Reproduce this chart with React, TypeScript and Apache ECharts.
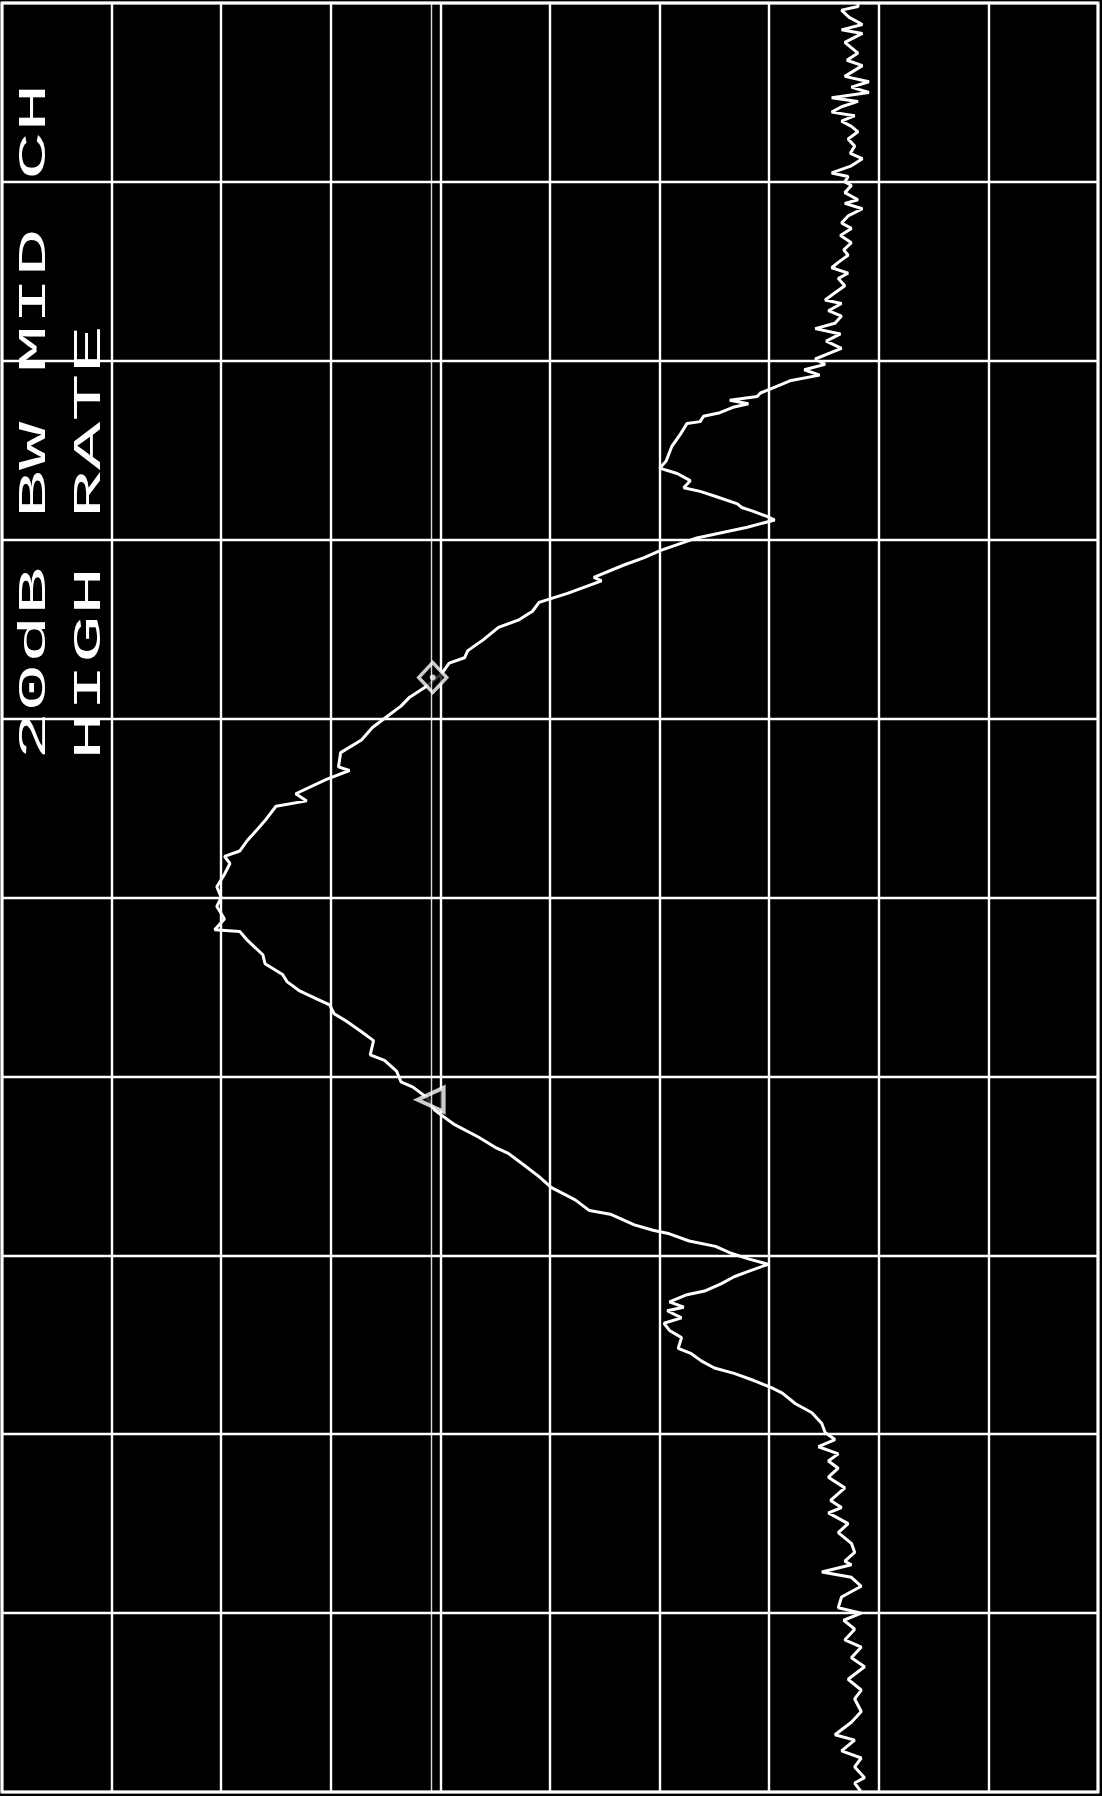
import React, { useEffect, useRef } from "react";
import * as echarts from "echarts";

const TITLE_LINE_1 = "20dB BW MID CH";
const TITLE_LINE_2 = "HIGH RATE";

// Trace points: [dB below reference level, frequency position in divisions from the top]
const noiseUpper: [number, number][] = [
  [78.1, 0.0], [78.1, 0.02], [76.6, 0.04], [77.3, 0.08], [78.5, 0.12], [76.6, 0.15], [78.5, 0.17],
  [76.9, 0.22], [78.1, 0.28], [77.1, 0.32], [78.5, 0.35], [76.9, 0.41], [79.1, 0.44], [77.5, 0.47],
  [79.1, 0.5], [75.7, 0.53], [78.1, 0.55], [76.6, 0.58], [75.7, 0.61], [77.8, 0.63], [76.6, 0.66],
  [77.5, 0.69], [78.1, 0.72], [77.2, 0.76], [77.8, 0.8], [77.4, 0.84], [78.5, 0.87], [77.5, 0.91],
  [75.7, 0.95], [77.2, 0.97], [76.9, 1.0], [77.5, 1.02], [76.9, 1.06], [78.1, 1.1], [76.9, 1.12],
  [78.5, 1.15], [77.2, 1.19], [76.6, 1.23], [77.5, 1.26], [76.5, 1.3], [77.5, 1.34], [76.8, 1.38],
  [77.2, 1.41], [76.3, 1.45], [75.7, 1.48], [77.2, 1.51], [76.3, 1.54], [76.9, 1.58], [76.0, 1.62],
  [75.1, 1.66], [76.6, 1.68], [75.4, 1.72], [76.6, 1.75], [76.0, 1.79], [74.2, 1.82], [76.5, 1.85],
  [75.2, 1.89], [76.6, 1.93], [75.4, 1.96], [74.2, 1.99], [75.1, 2.02], [73.2, 2.05], [74.6, 2.08],
  [72.0, 2.11], [70.8, 2.14], [69.2, 2.18],
];

const sideLobeUpper: [number, number][] = [
  [68.9, 2.2], [66.4, 2.22], [68.1, 2.24], [66.7, 2.26], [65.5, 2.29], [64.0, 2.31], [63.7, 2.34],
  [62.5, 2.35], [61.9, 2.41], [61.1, 2.48], [60.6, 2.56], [60.0, 2.6], [61.6, 2.63], [62.8, 2.67],
  [62.2, 2.71], [63.7, 2.73], [65.2, 2.76], [67.1, 2.8], [67.5, 2.82], [68.5, 2.84], [69.8, 2.87],
  [70.5, 2.89],
];

const mainLobe: [number, number][] = [
  [68.0, 2.93], [63.4, 2.99], [60.1, 3.06], [58.6, 3.1], [56.8, 3.14], [54.0, 3.21], [54.7, 3.23],
  [51.6, 3.3], [49.0, 3.35], [48.4, 3.4], [47.1, 3.45], [45.3, 3.49], [43.9, 3.56], [42.5, 3.62],
  [42.2, 3.66], [40.8, 3.69], [40.1, 3.75], [38.7, 3.82], [37.2, 3.88], [36.4, 3.93], [35.1, 3.99],
  [33.8, 4.05], [32.8, 4.12], [30.9, 4.19], [30.7, 4.27], [31.7, 4.29], [29.6, 4.34], [26.8, 4.42],
  [27.8, 4.46], [25.0, 4.49], [24.0, 4.57], [23.0, 4.64], [22.4, 4.68], [21.7, 4.74], [20.3, 4.77],
  [20.8, 4.81], [20.3, 4.87], [19.6, 4.94], [20.0, 5.0], [19.6, 5.05], [20.3, 5.12], [19.4, 5.18],
  [21.7, 5.19], [22.4, 5.24], [23.8, 5.32], [24.0, 5.37], [25.6, 5.43], [26.0, 5.47], [27.1, 5.52],
  [28.8, 5.57], [29.9, 5.6], [30.3, 5.65], [31.4, 5.69], [32.8, 5.75], [33.9, 5.8], [33.6, 5.88],
  [34.9, 5.91], [36.0, 5.97], [36.4, 6.03], [37.5, 6.06], [38.8, 6.12], [39.5, 6.19], [41.3, 6.27],
  [43.5, 6.34], [45.1, 6.4], [46.2, 6.43], [47.5, 6.49], [49.0, 6.56], [50.1, 6.62], [52.3, 6.69],
  [53.6, 6.75], [55.5, 6.77], [57.7, 6.83], [59.4, 6.86], [60.9, 6.88], [62.7, 6.92], [65.1, 6.95],
  [66.6, 6.99], [68.1, 7.02], [69.9, 7.05],
];

const sideLobeLower: [number, number][] = [
  [68.1, 7.09], [66.8, 7.12], [65.6, 7.16], [64.1, 7.2], [62.5, 7.22], [60.9, 7.26], [62.2, 7.29],
  [60.7, 7.31], [62.0, 7.35], [60.4, 7.38], [60.9, 7.42], [62.0, 7.46], [61.7, 7.52], [62.9, 7.55],
  [63.8, 7.59], [65.0, 7.63], [66.8, 7.66], [68.6, 7.7], [70.2, 7.74], [71.2, 7.77], [72.4, 7.83],
  [73.9, 7.88], [74.8, 7.94],
];

const noiseLower: [number, number][] = [
  [75.1, 7.99], [76.0, 8.03], [74.5, 8.07], [76.3, 8.11], [75.4, 8.15], [76.3, 8.19], [75.4, 8.24],
  [76.9, 8.3], [75.6, 8.37], [76.6, 8.41], [75.4, 8.44], [77.2, 8.5], [76.3, 8.55], [77.5, 8.61],
  [77.8, 8.66], [76.9, 8.71], [77.5, 8.73], [74.8, 8.77], [77.5, 8.8], [78.4, 8.85], [76.6, 8.91],
  [76.3, 8.97], [78.4, 9.0], [76.8, 9.04], [77.8, 9.09], [76.9, 9.15], [78.4, 9.19], [77.5, 9.25],
  [78.7, 9.3], [77.2, 9.37], [78.4, 9.43], [77.8, 9.48], [78.4, 9.55], [77.5, 9.61], [76.0, 9.68],
  [77.8, 9.71], [76.6, 9.77], [78.4, 9.81], [77.8, 9.86], [78.7, 9.92], [77.8, 9.95], [78.4, 10.0],
];

const diamondMarker: [number, number] = [39.3, 3.77];
const triangleMarker: [number, number] = [39.1, 6.13];
const displayLineDb = 39.2;

const AMP_MIN = 0;
const AMP_MAX = 100;
const AMP_STEP = 10;
const FREQ_MIN = 0;
const FREQ_MAX = 10;
const FREQ_STEP = 1;

export default function App() {
  const ref = useRef<HTMLDivElement>(null);

  useEffect(() => {
    if (!ref.current) return;
    const chart = echarts.init(ref.current, undefined, { renderer: "svg" });
    const trace = [...noiseUpper, ...sideLobeUpper, ...mainLobe, ...sideLobeLower, ...noiseLower];
    const white = "#ffffff";
    const textStyleBase = {
      fontFamily: "Liberation Mono",
      fontSize: 38,
      fill: white,
      align: "left",
      verticalAlign: "middle",
    };
    chart.setOption({
      animation: false,
      backgroundColor: "#000000",
      grid: {
        left: 2,
        top: 3,
        width: 1096,
        height: 1789,
        show: true,
        borderColor: white,
        borderWidth: 3,
        backgroundColor: "#000000",
      },
      xAxis: {
        type: "value",
        min: AMP_MIN,
        max: AMP_MAX,
        interval: AMP_STEP,
        axisLabel: { show: false },
        axisTick: { show: false },
        axisLine: { show: false },
        splitLine: { show: true, lineStyle: { color: white, width: 2.4 } },
      },
      yAxis: {
        type: "value",
        min: FREQ_MIN,
        max: FREQ_MAX,
        interval: FREQ_STEP,
        inverse: true,
        axisLabel: { show: false },
        axisTick: { show: false },
        axisLine: { show: false },
        splitLine: { show: true, lineStyle: { color: white, width: 2.4 } },
      },
      series: [
        {
          type: "line",
          data: trace,
          showSymbol: false,
          symbol: "none",
          lineStyle: { color: white, width: 3 },
          z: 3,
          markLine: {
            silent: true,
            symbol: "none",
            label: { show: false },
            lineStyle: { color: white, width: 1.4, type: "solid", opacity: 0.85 },
            data: [{ xAxis: displayLineDb }],
          },
        },
        {
          type: "scatter",
          data: [diamondMarker],
          symbol: "diamond",
          symbolSize: [28, 30],
          itemStyle: { color: "#000000", borderColor: white, borderWidth: 3.5 },
          z: 4,
        },
        {
          type: "scatter",
          data: [diamondMarker],
          symbol: "circle",
          symbolSize: 6,
          itemStyle: { color: white },
          z: 5,
        },
        {
          type: "scatter",
          data: [triangleMarker],
          symbol: "triangle",
          symbolRotate: 90,
          symbolSize: [24, 26],
          itemStyle: { color: "#000000", borderColor: white, borderWidth: 4 },
          z: 4,
        },
      ],
      graphic: [
        {
          type: "text",
          x: 35,
          y: 760,
          rotation: Math.PI / 2,
          scaleX: 2.12,
          style: { ...textStyleBase, text: TITLE_LINE_1 },
          z: 10,
        },
        {
          type: "text",
          x: 90,
          y: 760,
          rotation: Math.PI / 2,
          scaleX: 2.12,
          style: { ...textStyleBase, text: TITLE_LINE_2 },
          z: 10,
        },
      ],
    });
    return () => chart.dispose();
  }, []);

  return (
    <div
      ref={ref}
      style={{ position: "fixed", left: 0, top: 0, width: 1102, height: 1796, background: "#000" }}
    />
  );
}
